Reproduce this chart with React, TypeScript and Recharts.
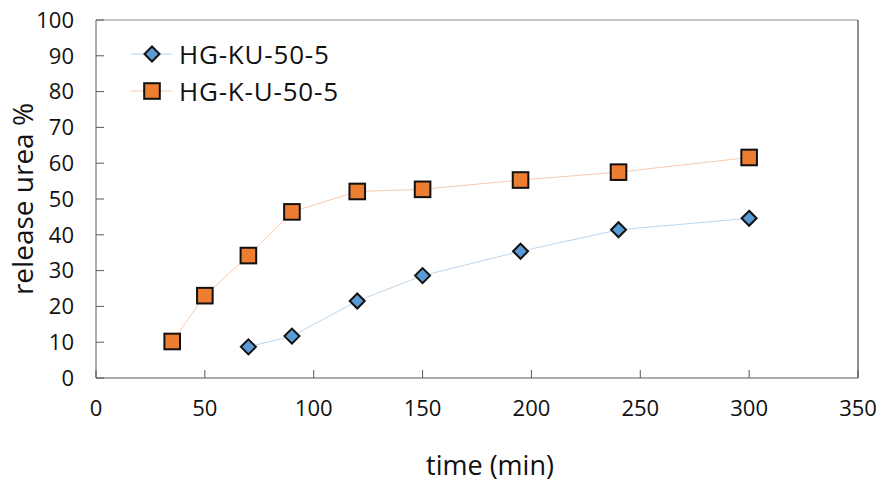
import React from 'react';
import { LineChart, Line, XAxis, YAxis, ReferenceLine, Label } from 'recharts';

const timeKU = [70, 90, 120, 150, 195, 240, 300];
const releaseKU = [8.7, 11.7, 21.5, 28.6, 35.4, 41.4, 44.6];
const timeKU2 = [35, 50, 70, 90, 120, 150, 195, 240, 300];
const releaseKU2 = [10.2, 23.0, 34.2, 46.4, 52.1, 52.7, 55.3, 57.5, 61.6];
const xTicks = [0, 50, 100, 150, 200, 250, 300, 350];
const yTicks = [0, 10, 20, 30, 40, 50, 60, 70, 80, 90, 100];
const seriesNames = ['HG-KU-50-5', 'HG-K-U-50-5'];

const dataKU = timeKU.map((t, i) => ({ t, v: releaseKU[i] }));
const dataKU2 = timeKU2.map((t, i) => ({ t, v: releaseKU2[i] }));

const FONT = '"Open Sans", "Noto Sans", sans-serif';
const BLUE = '#5B9BD5';
const ORANGE = '#ED7D31';
const BLUE_LINE = '#BDD7EE';
const ORANGE_LINE = '#F8CBAD';

const Diamond = (props: any) => {
  const { cx, cy } = props;
  if (cx == null || cy == null) return null;
  const r = 7.5;
  return (
    <polygon
      points={`${cx},${cy - r} ${cx + r},${cy} ${cx},${cy + r} ${cx - r},${cy}`}
      fill={BLUE}
      stroke="#111"
      strokeWidth={2}
    />
  );
};

const Square = (props: any) => {
  const { cx, cy } = props;
  if (cx == null || cy == null) return null;
  const r = 7.8;
  return <rect x={cx - r} y={cy - r} width={2 * r} height={2 * r} fill={ORANGE} stroke="#111" strokeWidth={2} />;
};

const LegendBox = () => (
  <div style={{ position: 'absolute', left: 131, top: 35, fontFamily: FONT, fontSize: 26, letterSpacing: 0.8, color: '#111' }}>
    {[0, 1].map((i) => (
      <div key={i} style={{ display: 'flex', alignItems: 'center', height: 37 }}>
        <svg width={44} height={20}>
          <line x1={0} y1={10} x2={41} y2={10} stroke={i === 0 ? BLUE_LINE : ORANGE_LINE} strokeWidth={1} />
          {i === 0 ? <Diamond cx={21} cy={10} /> : <Square cx={21} cy={10} />}
        </svg>
        <span style={{ marginLeft: 4 }}>{seriesNames[i]}</span>
      </div>
    ))}
  </div>
);

const YTitle = (p: any) => {
  const vb = p.viewBox;
  const x = 33;
  const y = vb.y + vb.height / 2;
  return (
    <text x={x} y={y} transform={`rotate(-90, ${x}, ${y})`} textAnchor="middle" fill="#111" fontSize={28} fontFamily={FONT}>
      release urea %
    </text>
  );
};

const XTitle = () => (
  <text x={490} y={464} textAnchor="middle" dominantBaseline="central" fill="#111" fontSize={27} fontFamily={FONT}>
    time (min)
  </text>
);

export default function App() {
  return (
    <div style={{ position: 'absolute', left: 0, top: 0, width: 883, height: 481 }}>
      <LineChart width={883} height={481} margin={{ top: 20, right: 25, bottom: 0, left: 0 }}>
        <XAxis
          type="number"
          dataKey="t"
          domain={[0, 350]}
          ticks={xTicks}
          interval={0}
          allowDataOverflow
          tickSize={-8}
          tickMargin={30}
          stroke="#595959"
          tick={{ fill: '#111', fontSize: 22, fontFamily: FONT }}
          height={103}
        >
          <Label content={<XTitle />} />
        </XAxis>
        <YAxis
          type="number"
          dataKey="v"
          domain={[0, 100]}
          ticks={yTicks}
          interval={0}
          allowDataOverflow
          tickSize={-8}
          tickMargin={30}
          width={96}
          stroke="#595959"
          tick={{ fill: '#111', fontSize: 22, fontFamily: FONT }}
        >
          <Label content={<YTitle />} />
        </YAxis>
        <ReferenceLine y={100} stroke="#8c8c8c" strokeWidth={1} />
        <ReferenceLine x={350} stroke="#222" strokeWidth={1} />
        <Line
          data={dataKU}
          dataKey="v"
          name={seriesNames[0]}
          stroke={BLUE_LINE}
          strokeWidth={1}
          dot={<Diamond />}
          activeDot={false}
          isAnimationActive={false}
        />
        <Line
          data={dataKU2}
          dataKey="v"
          name={seriesNames[1]}
          stroke={ORANGE_LINE}
          strokeWidth={1}
          dot={<Square />}
          activeDot={false}
          isAnimationActive={false}
        />
      </LineChart>
      <LegendBox />
    </div>
  );
}
